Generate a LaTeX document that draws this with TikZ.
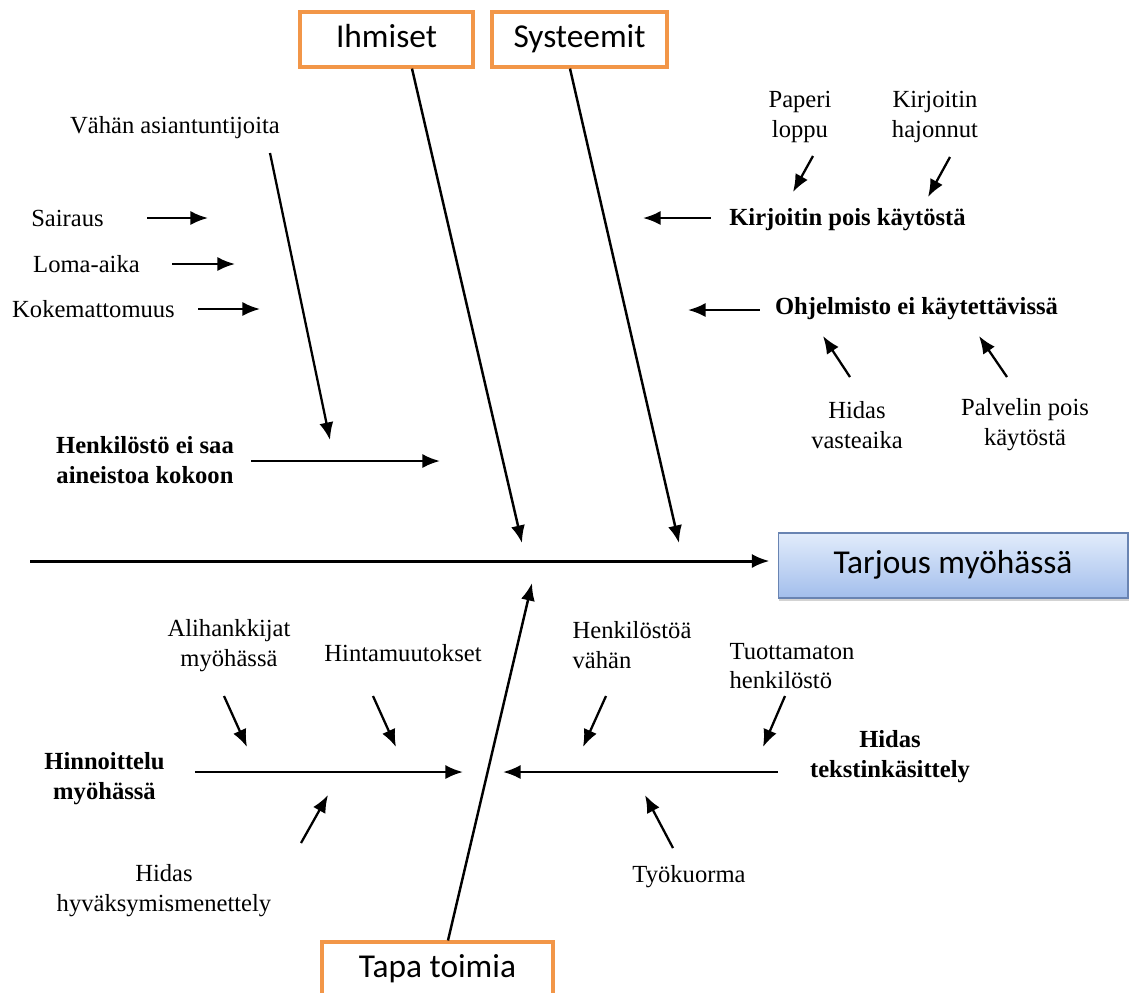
\documentclass[tikz,border=0pt]{standalone}
\usepackage{fontspec}
\setmainfont{Liberation Serif}
\newfontfamily\boxfont{Carlito}
\usetikzlibrary{arrows.meta}
\usetikzlibrary{shadows}
\definecolor{catorange}{RGB}{242,150,72}
\definecolor{efftop}{RGB}{226,236,251}
\definecolor{effbot}{RGB}{162,190,236}
\definecolor{effline}{RGB}{105,132,178}
\tikzset{bone/.style = {line width=1.4pt, -{Latex[length=10pt,width=8pt]}}}
\tikzset{twig/.style = {line width=1.3pt, -{Latex[length=10pt,width=8pt]}}}
\tikzset{catbox/.style = {draw=catorange, line width=1.8pt, fill=white,
                          minimum height=1.1cm, text height=13pt, text depth=4pt,
                          font=\boxfont\fontsize{19}{23}\selectfont}}
\tikzset{effbox/.style = {draw=effline, line width=0.6pt, top color=efftop, bottom color=effbot,
                          minimum width=7cm, minimum height=1.3cm,
                          text height=13pt, text depth=4pt,
                          drop shadow={shadow xshift=0.6pt, shadow yshift=-1.6pt, opacity=0.35},
                          font=\boxfont\fontsize{19}{23}\selectfont}}
\tikzset{cause/.style = {inner sep=0, align=center, font=\fontsize{14}{17}\selectfont\bfseries}}
\tikzset{sub/.style = {inner sep=0, align=center, font=\fontsize{14}{17}\selectfont}}

\begin{document}
\begin{tikzpicture}[x=0.02cm, y=-0.02cm]
    \useasboundingbox (0,0) rectangle (1132,992);
    \clip (0,0) rectangle (1132,992);

    % categories and effect
    \node [catbox, minimum width=3.46cm] (ihm) at (386.5, 39.5) {Ihmiset};
    \node [catbox, minimum width=3.5cm] (sys) at (579.5, 39.5) {Systeemit};
    \node [catbox, minimum width=4.62cm] (tapa) at (437.5, 969.5) {Tapa toimia};
    \node [effbox] (eff) at (953, 565.5) {Tarjous myöhässä};

    \coordinate (tail) at (30, 561);
    \coordinate (ihm-t) at (522, 543);
    \coordinate (sys-t) at (679, 543);
    \coordinate (tapa-t) at (532, 583);

    \draw [line width=1.7pt, -{Latex[length=10pt,width=8pt]}, shorten >=0.16cm] (tail) -- (tail -| eff.west);
    \draw [bone] ([xshift=0.51cm]ihm.south) -- (ihm-t);
    \draw [bone] ([xshift=-0.19cm]sys.south) -- (sys-t);
    \draw [bone] ([xshift=0.21cm]tapa.north) -- (tapa-t);

    % Ihmiset
    \node [sub] (asi) at (175, 128) {Vähän asiantuntijoita};
    \node [sub] (sair) at (67.5, 218) {Sairaus};
    \node [sub] (loma) at (86.5, 264) {Loma-aika};
    \node [sub] (koke) at (93.5, 309) {Kokemattomuus};
    \node [cause] (henk) at (145, 460) {Henkilöstö ei saa\\aineistoa kokoon};

    \coordinate (asi-s) at (270, 153);
    \coordinate (asi-t) at (330, 440);
    \coordinate (sair-t) at (208, 218);
    \coordinate (loma-t) at (235, 264);
    \coordinate (koke-t) at (260, 309);
    \coordinate (henk-t) at (440, 461);

    \draw [twig] (asi-s) -- (asi-t);
    \draw [twig, shorten <=0.86cm] (sair) -- (sair-t);
    \draw [twig, shorten <=0.64cm] (loma) -- (loma-t);
    \draw [twig, shorten <=0.46cm] (koke) -- (koke-t);
    \draw [bone, shorten <=0.34cm] (henk.east |- henk-t) -- (henk-t);

    % Systeemit
    \node [sub] (pap) at (800, 117) {Paperi\\loppu};
    \node [sub] (haj) at (935, 117) {Kirjoitin\\hajonnut};
    \node [cause] (kirj) at (847.5, 220) {Kirjoitin pois käytöstä};
    \node [cause] (ohj) at (916.5, 309) {Ohjelmisto ei käytettävissä};
    \node [sub] (vast) at (857, 425) {Hidas\\vasteaika};
    \node [sub] (palv) at (1025, 425) {Palvelin pois\\käytöstä};

    \coordinate (pap-s) at (813, 156);
    \coordinate (pap-t) at (793, 192);
    \coordinate (haj-s) at (950, 157);
    \coordinate (haj-t) at (928, 197);
    \coordinate (kirj-t) at (643, 218);
    \coordinate (ohj-t) at (688, 310);
    \coordinate (vast-s) at (850, 377);
    \coordinate (vast-t) at (823, 336);
    \coordinate (palv-s) at (1007, 377);
    \coordinate (palv-t) at (979, 336);

    \draw [twig] (pap-s) -- (pap-t);
    \draw [twig] (haj-s) -- (haj-t);
    \draw [twig, shorten <=0.36cm] (kirj.west |- kirj-t) -- (kirj-t);
    \draw [twig, shorten <=0.30cm] (ohj.west |- ohj-t) -- (ohj-t);
    \draw [twig] (vast-s) -- (vast-t);
    \draw [twig] (palv-s) -- (palv-t);

    % Tapa toimia
    \node [sub] (ali) at (229, 646) {Alihankkijat\\myöhässä};
    \node [sub] (hint) at (403, 653) {Hintamuutokset};
    \node [cause] (hinn) at (104.5, 779) {Hinnoittelu\\myöhässä};
    \node [sub] (hyv) at (164, 891) {Hidas\\hyväksymismenettely};
    \node [sub, align=left] (vah) at (632, 645) {Henkilöstöä\\vähän};
    \node [sub, align=left] (tuot) at (792, 666) {Tuottamaton\\henkilöstö};
    \node [cause] (teks) at (890, 757) {Hidas\\tekstinkäsittely};
    \node [sub] (tyo) at (689, 877) {Työkuorma};

    \coordinate (ali-s) at (224, 696);
    \coordinate (ali-t) at (247, 747);
    \coordinate (hint-s) at (373, 696);
    \coordinate (hint-t) at (396, 747);
    \coordinate (hinn-t) at (463, 772);
    \coordinate (hyv-s) at (301, 843);
    \coordinate (hyv-t) at (328, 795);
    \coordinate (vah-s) at (606, 696);
    \coordinate (vah-t) at (583, 747);
    \coordinate (tuot-s) at (785, 696);
    \coordinate (tuot-t) at (763, 747);
    \coordinate (teks-t) at (503, 772);
    \coordinate (tyo-s) at (673, 848);
    \coordinate (tyo-t) at (645, 795);

    \draw [twig] (ali-s) -- (ali-t);
    \draw [twig] (hint-s) -- (hint-t);
    \draw [bone, shorten <=0.6cm] (hinn.east |- hinn-t) -- (hinn-t);
    \draw [twig] (hyv-s) -- (hyv-t);
    \draw [twig] (vah-s) -- (vah-t);
    \draw [twig] (tuot-s) -- (tuot-t);
    \draw [bone, shorten <=0.64cm] (teks.west |- teks-t) -- (teks-t);
    \draw [twig] (tyo-s) -- (tyo-t);
\end{tikzpicture}
\end{document}
